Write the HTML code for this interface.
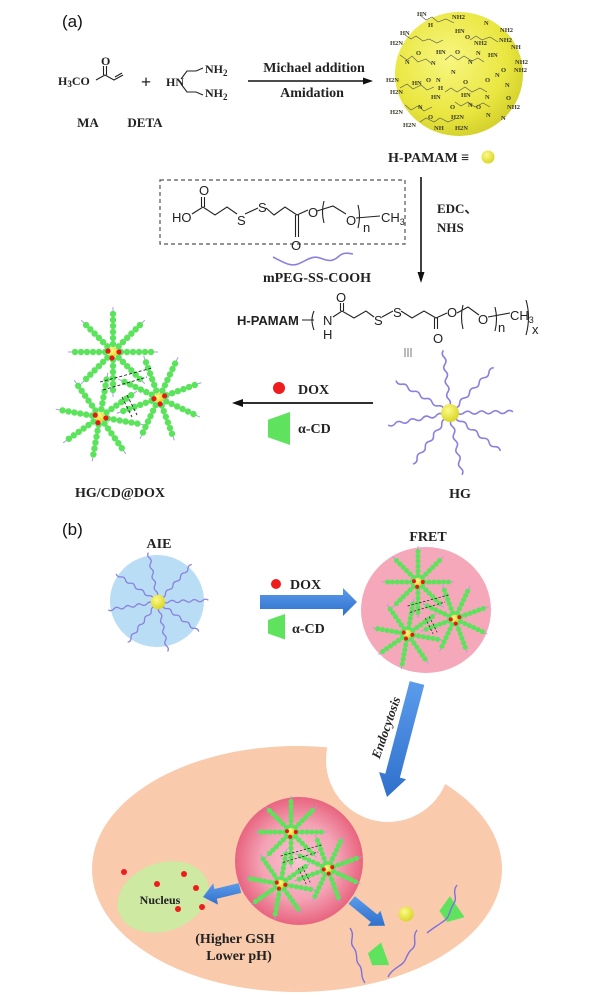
<!DOCTYPE html>
<html><head><meta charset="utf-8">
<style>
html,body{margin:0;padding:0;background:#fff;}
svg{display:block;}
.lb{font-family:"Liberation Serif",serif;font-weight:bold;fill:#222;}
.ch{font-family:"Liberation Sans",sans-serif;fill:#222;font-size:13px;}
.am{font-family:"Liberation Serif",serif;font-weight:bold;font-size:6.5px;fill:#3c3c28;}
.bd{stroke:#222;stroke-width:1.1;fill:none;}
</style></head><body>
<svg width="606" height="1000" viewBox="0 0 606 1000" xmlns="http://www.w3.org/2000/svg">
<defs>
 <radialGradient id="ys" cx="0.42" cy="0.38" r="0.65">
  <stop offset="0" stop-color="#f8f680"/>
  <stop offset="0.7" stop-color="#e9e640"/>
  <stop offset="1" stop-color="#d3cf2c"/>
 </radialGradient>
 <radialGradient id="yb" cx="0.4" cy="0.35" r="0.7">
  <stop offset="0" stop-color="#fbfa8a"/>
  <stop offset="1" stop-color="#d8d41e"/>
 </radialGradient>
 <radialGradient id="pk" cx="0.5" cy="0.5" r="0.5">
  <stop offset="0" stop-color="#f9c4d0"/>
  <stop offset="0.6" stop-color="#f3a2b4"/>
  <stop offset="1" stop-color="#e8647f"/>
 </radialGradient>
 <linearGradient id="bl" x1="0" y1="0" x2="0" y2="1">
  <stop offset="0" stop-color="#5b9cec"/>
  <stop offset="1" stop-color="#2f70cc"/>
 </linearGradient>
 <path id="wa" d="M0,0 q3.5,-3 7,0 t7,0 t7,0 t7,0 t7,0 t7,0 t7,0 t7,0 t7,0" fill="none" stroke="#8a80e0" stroke-width="1.6"/>
 <g id="ba">
  <line x1="40" y1="0" x2="45" y2="0" stroke="#a99be8" stroke-width="1"/>
  <circle cx="8" cy="0" r="3.2" fill="#5ce35c"/>
  <circle cx="14" cy="0" r="3.2" fill="#5ce35c"/>
  <circle cx="20" cy="0" r="3.2" fill="#5ce35c"/>
  <circle cx="26" cy="0" r="3.2" fill="#5ce35c"/>
  <circle cx="32" cy="0" r="3.2" fill="#5ce35c"/>
  <circle cx="38" cy="0" r="3.2" fill="#5ce35c"/>
 </g>
 <g id="st">
  <use href="#ba"/>
  <use href="#ba" transform="rotate(45)"/>
  <use href="#ba" transform="rotate(90)"/>
  <use href="#ba" transform="rotate(135)"/>
  <use href="#ba" transform="rotate(180)"/>
  <use href="#ba" transform="rotate(225)"/>
  <use href="#ba" transform="rotate(270)"/>
  <use href="#ba" transform="rotate(315)"/>
  <circle cx="0" cy="0" r="5" fill="url(#yb)"/>
  <circle cx="-5" cy="-1" r="2.6" fill="#e81818"/>
  <circle cx="6" cy="0" r="2.6" fill="#e81818"/>
  <circle cx="-1" cy="6" r="2.6" fill="#e81818"/>
 </g>
 <g id="cl">
  <use href="#st"/>
  <use href="#st" transform="translate(-13,65) rotate(10)"/>
  <use href="#st" transform="translate(46,46) rotate(-20)"/>
  <g stroke="#222" stroke-width="0.9" stroke-dasharray="3,2" fill="none">
   <line x1="-13" y1="30" x2="39" y2="16"/>
   <line x1="-10" y1="38" x2="34" y2="25"/>
   <line x1="9" y1="45" x2="19" y2="65"/>
   <line x1="14" y1="43" x2="24" y2="63"/>
  </g>
 </g>
 <polygon id="cd" points="0,7 20,0 20,30 0,23" fill="#5fe35f"/>
</defs>

<rect width="606" height="1000" fill="#fff"/>

<!-- ===== (a) ===== -->
<text x="62" y="27" font-family="Liberation Sans, sans-serif" font-size="17" fill="#111">(a)</text>

<!-- MA -->
<text class="lb" x="58" y="85" font-size="12">H<tspan dy="2" font-size="9">3</tspan><tspan dy="-2">CO</tspan></text>
<text class="lb" x="101" y="65" font-size="12">O</text>
<path class="bd" d="M96,80 L105,75 L114,80 L123,75"/>
<path class="bd" d="M103.5,75 L103.5,66 M106.5,75 L106.5,66 M115,77 L122,73"/>
<text class="lb" x="146" y="88" font-size="18" text-anchor="middle">+</text>
<!-- DETA -->
<text class="lb" x="166" y="86" font-size="12">HN</text>
<path class="bd" d="M181,79 L187,71 L196,71 L203,68 M181,84 L187,92 L196,92 L203,95"/>
<text class="lb" x="205" y="73" font-size="12">NH<tspan dy="3" font-size="9">2</tspan></text>
<text class="lb" x="205" y="97" font-size="12">NH<tspan dy="3" font-size="9">2</tspan></text>
<text class="lb" x="88" y="127" font-size="13" text-anchor="middle">MA</text>
<text class="lb" x="145" y="127" font-size="13" text-anchor="middle">DETA</text>

<!-- top arrow -->
<text class="lb" x="314" y="72" font-size="14" text-anchor="middle">Michael addition</text>
<line x1="248" y1="81" x2="366" y2="81" stroke="#111" stroke-width="1.6"/>
<polygon points="363,77.5 363,84.5 373,81" fill="#111"/>
<text class="lb" x="312" y="97" font-size="14" text-anchor="middle">Amidation</text>

<!-- H-PAMAM sphere -->
<ellipse cx="459" cy="74" rx="64" ry="62" fill="url(#ys)"/>
<g stroke="#555" stroke-width="0.6" fill="none">
 <path d="M420,15 l6,5 l6,-3 l6,5 l8,-3 l8,4"/>
 <path d="M405,35 l6,4 l5,-3 l7,5 l6,-2 l8,4 l6,-3"/>
 <path d="M470,40 l6,-4 l6,4 l8,-3 l8,5"/>
 <path d="M400,55 l7,5 l5,-4 l6,6 l8,-3 l6,5"/>
 <path d="M445,60 l6,-5 l7,5 l6,-4 l8,5 l6,-3 l6,4"/>
 <path d="M400,88 l7,-4 l6,5 l8,-4 l6,5 l7,-3"/>
 <path d="M445,92 l6,-4 l6,4 l8,-5 l7,5 l8,-4 l7,4"/>
 <path d="M405,105 l6,5 l7,-4 l6,5 l8,-4"/>
 <path d="M455,102 l6,4 l7,-4 l7,5 l8,-4 l7,4"/>
 <path d="M420,122 l6,-4 l8,4 l6,-4 l8,4 l7,-3"/>
</g>
<text class="am" x="417" y="16">HN</text><text class="am" x="452" y="19">NH2</text>
<text class="am" x="428" y="27">H</text><text class="am" x="455" y="33">HN</text><text class="am" x="484" y="25">N</text><text class="am" x="500" y="32">NH2</text>
<text class="am" x="400" y="35">HN</text><text class="am" x="390" y="45">H2N</text><text class="am" x="465" y="39">O</text><text class="am" x="474" y="45">NH2</text><text class="am" x="499" y="42">NH2</text><text class="am" x="511" y="49">NH</text>
<text class="am" x="416" y="55">O</text><text class="am" x="436" y="54">HN</text><text class="am" x="455" y="54">O</text><text class="am" x="476" y="55">N</text><text class="am" x="488" y="57">HN</text><text class="am" x="515" y="64">NH2</text>
<text class="am" x="405" y="64">N</text><text class="am" x="431" y="65">N</text><text class="am" x="468" y="64">N</text><text class="am" x="501" y="72">O</text><text class="am" x="514" y="72">NH2</text>
<text class="am" x="386" y="82">H2N</text><text class="am" x="412" y="85">HN</text><text class="am" x="426" y="82">O</text><text class="am" x="436" y="82">N</text><text class="am" x="451" y="74">N</text><text class="am" x="463" y="84">O</text><text class="am" x="485" y="82">O</text><text class="am" x="495" y="77">N</text>
<text class="am" x="390" y="94">H2N</text><text class="am" x="438" y="90">H</text><text class="am" x="505" y="87">N</text>
<text class="am" x="431" y="99">HN</text><text class="am" x="461" y="97">HN</text><text class="am" x="485" y="99">N</text><text class="am" x="506" y="100">O</text>
<text class="am" x="390" y="114">H2N</text><text class="am" x="418" y="109">N</text><text class="am" x="450" y="109">O</text><text class="am" x="468" y="107">N</text><text class="am" x="476" y="109">O</text><text class="am" x="507" y="109">NH2</text>
<text class="am" x="403" y="127">H2N</text><text class="am" x="428" y="119">O</text><text class="am" x="451" y="119">H2N</text><text class="am" x="486" y="117">N</text>
<text class="am" x="434" y="130">NH</text><text class="am" x="455" y="130">H2N</text><text class="am" x="501" y="120">N</text>

<text class="lb" x="388" y="162" font-size="14">H-PAMAM ≡</text>
<circle cx="488" cy="157" r="6.5" fill="url(#yb)"/>

<!-- down arrow -->
<line x1="421" y1="177" x2="421" y2="275" stroke="#111" stroke-width="1.6"/>
<polygon points="417.5,272 424.5,272 421,283" fill="#111"/>
<text class="lb" x="437" y="213" font-size="13">EDC、</text>
<text class="lb" x="437" y="232" font-size="13">NHS</text>

<!-- dashed box -->
<rect x="160" y="180" width="245" height="64" fill="none" stroke="#555" stroke-width="1.2" stroke-dasharray="4,3"/>
<text class="ch" x="172" y="222">HO</text>
<text class="ch" x="199" y="195">O</text>
<text class="ch" x="237" y="225">S</text>
<text class="ch" x="258" y="212">S</text>
<text class="ch" x="291" y="250">O</text>
<text class="ch" x="308" y="217">O</text>
<text class="ch" x="346" y="225">O</text>
<text class="ch" x="363" y="232" font-size="9">n</text>
<text class="ch" x="381" y="222">CH<tspan dy="3" font-size="9">3</tspan></text>
<path class="bd" d="M192,214 L203,207 L215,215 L227,207 L237,214 M245,214 L258,208 M266,208 L274,215 L285,207 L297,215 L308,210 M317,211 L333,206 L346,214 M356,218 L380,216"/>
<path class="bd" d="M201.5,207 L201.5,197 M204.5,207 L204.5,197 M295.5,215 L295.5,237 M298.5,215 L298.5,237"/>
<path class="bd" d="M324,201 q-3,11 0,22 M358,205 q3,11 0,23"/>

<!-- mPEG wave -->
<path d="M273,257 C283,262 290,267 298,264 C306,261 312,255 320,258 C328,261 332,262 338,257 C343,252 348,253 353,254" fill="none" stroke="#8a80e0" stroke-width="1.6"/>
<text class="lb" x="317" y="282" font-size="14" text-anchor="middle">mPEG-SS-COOH</text>

<!-- bottom structure -->
<text class="ch" x="237" y="325" font-weight="bold">H-PAMAM</text>
<path class="bd" d="M302,320 L314,320 M314,311 q-4,9 0,19"/>
<text class="ch" x="323" y="325">N</text>
<text class="ch" x="323" y="339">H</text>
<text class="ch" x="336" y="302">O</text>
<path class="bd" d="M333,317 L342,311 L354,318 L366,311 L374,317 M382,317 L393,311 M401,311 L412,318 L424,311 L436,318 L447,313 M457,313 L468,307 L479,315 M488,317 L510,313"/>
<path class="bd" d="M340.5,311 L340.5,303 M343.5,311 L343.5,303 M434.5,318 L434.5,329 M437.5,318 L437.5,329"/>
<text class="ch" x="374" y="325">S</text>
<text class="ch" x="393" y="317">S</text>
<text class="ch" x="433" y="343">O</text>
<text class="ch" x="447" y="317">O</text>
<text class="ch" x="478" y="324">O</text>
<path class="bd" d="M463,305 q-3,12 0,24 M495,307 q3,12 0,24 M526,300 q5,17 0,35"/>
<text class="ch" x="498" y="332" font-size="9">n</text>
<text class="ch" x="510" y="320">CH<tspan dy="3" font-size="9">3</tspan></text>
<text class="ch" x="532" y="334" font-size="11">x</text>
<g stroke="#777" stroke-width="1"><line x1="405" y1="348" x2="405" y2="357"/><line x1="408" y1="348" x2="408" y2="357"/><line x1="411" y1="348" x2="411" y2="357"/></g>

<!-- HG -->
<g transform="translate(450,413)">
 <use href="#wa" transform="rotate(-96)"/>
 <use href="#wa" transform="rotate(-46)"/>
 <use href="#wa" transform="rotate(-1)"/>
 <use href="#wa" transform="rotate(37)"/>
 <use href="#wa" transform="rotate(79)"/>
 <use href="#wa" transform="rotate(126)"/>
 <use href="#wa" transform="rotate(169)"/>
 <use href="#wa" transform="rotate(211)"/>
 <circle r="9" fill="url(#yb)"/>
</g>
<text class="lb" x="460" y="498" font-size="14" text-anchor="middle">HG</text>

<!-- DOX arrow (a) -->
<circle cx="279" cy="388" r="6" fill="#ee1c1c"/>
<text class="lb" x="298" y="394" font-size="14">DOX</text>
<line x1="373" y1="403" x2="240" y2="403" stroke="#111" stroke-width="1.8"/>
<polygon points="243,399 243,407 232,403" fill="#111"/>
<use href="#cd" transform="translate(268,412) scale(1.1)"/>
<text class="lb" x="298" y="433" font-size="14">α-CD</text>

<!-- HG/CD@DOX -->
<use href="#cl" transform="translate(113,352)"/>
<text class="lb" x="120" y="497" font-size="14" text-anchor="middle">HG/CD@DOX</text>

<!-- ===== (b) ===== -->
<text x="62" y="535" font-family="Liberation Sans, sans-serif" font-size="17" fill="#111">(b)</text>

<text class="lb" x="159" y="548" font-size="14" text-anchor="middle">AIE</text>
<ellipse cx="157" cy="601" rx="47" ry="46" fill="#b8ddf4"/>
<g transform="translate(158,602) scale(0.8)">
 <use href="#wa" transform="rotate(-101)"/>
 <use href="#wa" transform="rotate(-48)"/>
 <use href="#wa" transform="rotate(-2)"/>
 <use href="#wa" transform="rotate(36)"/>
 <use href="#wa" transform="rotate(79)"/>
 <use href="#wa" transform="rotate(127)"/>
 <use href="#wa" transform="rotate(171)"/>
 <use href="#wa" transform="rotate(214)"/>
 <circle r="9" fill="url(#yb)"/>
</g>

<circle cx="276" cy="584" r="5" fill="#ee1c1c"/>
<text class="lb" x="290" y="589" font-size="14">DOX</text>
<polygon points="260,595 343,595 343,588 357,602 343,616 343,609 260,609" fill="url(#bl)"/>
<use href="#cd" transform="translate(268,614) scale(0.85)"/>
<text class="lb" x="292" y="633" font-size="14">α-CD</text>

<text class="lb" x="428" y="541" font-size="14" text-anchor="middle">FRET</text>
<ellipse cx="426" cy="610" rx="65" ry="63" fill="#f5a8ba"/>
<use href="#cl" transform="translate(418,582) scale(0.8)"/>

<!-- cell -->
<ellipse cx="297" cy="869" rx="205" ry="123" fill="#f9caab"/>
<circle cx="388" cy="760" r="62" fill="#fff"/>

<!-- endocytosis arrow -->
<polygon points="409.7,681.1 424.3,684.9 399.9,777.6 406.1,779.3 387,797 379.1,772.1 385.3,773.8" fill="url(#bl)"/>
<text class="lb" x="0" y="0" font-size="13" font-style="italic" text-anchor="middle" transform="translate(390,729) rotate(-71)">Endocytosis</text>

<!-- nucleus -->
<ellipse cx="163" cy="897" rx="47" ry="34" fill="#cde9a2" transform="rotate(-20 163 897)"/>
<text class="lb" x="160" y="904" font-size="12" text-anchor="middle">Nucleus</text>
<g fill="#ee1c1c">
 <circle cx="124" cy="872" r="3"/><circle cx="157" cy="884" r="3"/><circle cx="184" cy="874" r="3"/>
 <circle cx="196" cy="888" r="3"/><circle cx="202" cy="907" r="3"/><circle cx="178" cy="909" r="3"/>
</g>

<!-- inner sphere -->
<ellipse cx="299" cy="861" rx="64" ry="64" fill="url(#pk)"/>
<use href="#cl" transform="translate(291,832) scale(0.8)"/>

<polygon points="238.8,883.1 241.2,892.9 216.8,898.8 218,904.6 203,897 213.2,883.2 214.4,889" fill="url(#bl)"/>
<polygon points="354.9,896.2 348.5,903.8 370.9,922.1 367.7,925.9 385,925.7 380.5,910.7 377.3,914.5" fill="url(#bl)"/>

<text class="lb" x="235" y="943" font-size="14" text-anchor="middle">(Higher GSH</text>
<text class="lb" x="239" y="960" font-size="14" text-anchor="middle">Lower pH)</text>

<!-- released -->
<circle cx="406" cy="914" r="7.5" fill="url(#yb)"/>
<use href="#cd" transform="translate(436,906) rotate(-35) scale(0.85)"/>
<use href="#cd" transform="translate(366,948) rotate(-20) scale(0.8)"/>
<g fill="none" stroke="#7d72dc" stroke-width="1.4">
 <path d="M457,885 c-6,8 2,12 -4,20 c-5,8 -2,12 -12,18 c-4,3 -8,5 -14,10"/>
 <path d="M417,930 c-6,8 2,14 -6,20 c-6,6 -4,12 -12,16 c-4,3 -8,5 -11,11"/>
 <path d="M350,928 c6,8 -2,14 4,20 c5,7 0,12 6,18 c3,5 0,10 5,17"/>
</g>
</svg>
</body></html>
